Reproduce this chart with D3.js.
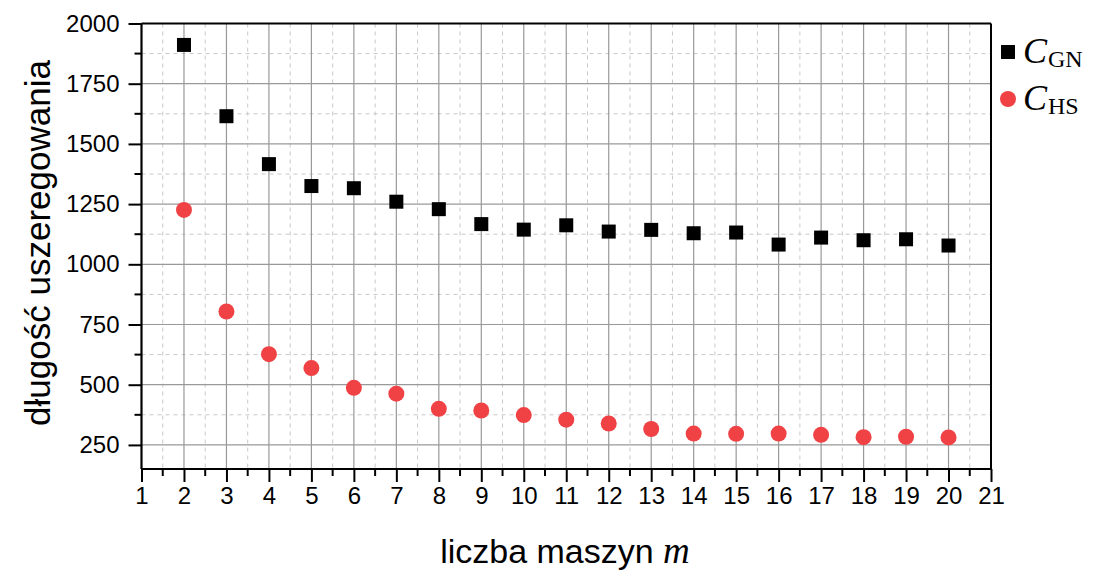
<!DOCTYPE html>
<html>
<head>
<meta charset="utf-8">
<script src="https://cdn.jsdelivr.net/npm/d3@7"></script>
<style>
  html, body { margin: 0; padding: 0; background: #fff; }
  svg { display: block; }
</style>
</head>
<body>
<svg id="chart" width="1095" height="574"></svg>
<script>
// Number of machines m
const machines = [2, 3, 4, 5, 6, 7, 8, 9, 10, 11, 12, 13, 14, 15, 16, 17, 18, 19, 20];
// Schedule length for C_GN
const cGN = [1911, 1615, 1416, 1325, 1316, 1260, 1229, 1167, 1144, 1162, 1136, 1143, 1129, 1132, 1082, 1111, 1100, 1104, 1078];
// Schedule length for C_HS
const cHS = [1226, 804, 627, 569, 487, 463, 400, 393, 374, 355, 339, 316, 297, 296, 297, 292, 282, 284, 281];

const xTicks = d3.range(1, 22);
const yTicks = [250, 500, 750, 1000, 1250, 1500, 1750, 2000];

const svg = d3.select("#chart");
const L = 141.5, R = 991, T = 23.5, B = 469;
const sans = "'Liberation Sans', Arial, sans-serif";
const serif = "'Liberation Serif', 'DejaVu Serif', serif";

const x = d3.scaleLinear().domain([1, 21]).range([L, R]);
const y = d3.scaleLinear().domain([150, 2000]).range([B, T]);

const g = svg.append("g");

// minor grid (dashed)
const xMinorVals = d3.range(1.5, 21, 1);
g.selectAll(".xminor").data(xMinorVals).join("line")
  .attr("x1", d => x(d)).attr("x2", d => x(d)).attr("y1", T).attr("y2", B)
  .attr("stroke", "#c8c8c8").attr("stroke-width", 1).attr("stroke-dasharray", "4,4");
const yMinorVals = d3.range(375, 2000, 250);
g.selectAll(".yminor").data(yMinorVals).join("line")
  .attr("x1", L).attr("x2", R).attr("y1", d => y(d)).attr("y2", d => y(d))
  .attr("stroke", "#c8c8c8").attr("stroke-width", 1).attr("stroke-dasharray", "4,4");

// major grid (solid)
g.selectAll(".xmajor").data(xTicks.slice(1, -1)).join("line")
  .attr("x1", d => x(d)).attr("x2", d => x(d)).attr("y1", T).attr("y2", B)
  .attr("stroke", "#999").attr("stroke-width", 1.2);
g.selectAll(".ymajor").data(yTicks.slice(0, -1)).join("line")
  .attr("x1", L).attr("x2", R).attr("y1", d => y(d)).attr("y2", d => y(d))
  .attr("stroke", "#999").attr("stroke-width", 1.2);

// frame: top and right
svg.append("line").attr("x1", L).attr("x2", R).attr("y1", T).attr("y2", T)
  .attr("stroke", "#000").attr("stroke-width", 2);
svg.append("line").attr("x1", R).attr("x2", R).attr("y1", T).attr("y2", B)
  .attr("stroke", "#000").attr("stroke-width", 2);

// axes
const xAxis = d3.axisBottom(x).tickValues(xTicks).tickSize(13).tickPadding(5).tickFormat(d3.format("d"));
const xAx = svg.append("g").attr("transform", `translate(0,${B})`).call(xAxis);
const yAxis = d3.axisLeft(y).tickValues(yTicks).tickSize(13).tickPadding(9).tickFormat(d3.format("d"));
const yAx = svg.append("g").attr("transform", `translate(${L},0)`).call(yAxis);

[xAx, yAx].forEach(a => {
  a.select(".domain").attr("stroke", "#000").attr("stroke-width", 2.2);
  a.selectAll(".tick line").attr("stroke", "#000").attr("stroke-width", 2);
  a.selectAll(".tick text").attr("fill", "#000")
    .style("font-family", sans).style("font-size", "24px");
});
xAx.select(".domain").attr("d", `M${L},0H${R}`);
yAx.select(".domain").attr("d", `M0,${B}V${T}`);

// minor ticks
xAx.selectAll(".mt").data(xMinorVals).join("line")
  .attr("x1", d => x(d)).attr("x2", d => x(d)).attr("y1", 0).attr("y2", 7)
  .attr("stroke", "#000").attr("stroke-width", 2);
yAx.selectAll(".mt").data(yMinorVals).join("line")
  .attr("x1", 0).attr("x2", -7).attr("y1", d => y(d)).attr("y2", d => y(d))
  .attr("stroke", "#000").attr("stroke-width", 2);

// data marks
const sq = 14;
svg.append("g").selectAll("rect").data(machines).join("rect")
  .attr("x", (d) => x(d) - sq / 2)
  .attr("y", (d, i) => y(cGN[i]) - sq / 2)
  .attr("width", sq).attr("height", sq).attr("fill", "#000");
svg.append("g").selectAll("circle").data(machines).join("circle")
  .attr("cx", d => x(d))
  .attr("cy", (d, i) => y(cHS[i]))
  .attr("r", 8).attr("fill", "#f04245");

// axis titles
svg.append("text")
  .attr("x", 565).attr("y", 563).attr("text-anchor", "middle")
  .style("font-family", sans).style("font-size", "34px")
  .html(`liczba maszyn <tspan style="font-family:${serif}; font-style:italic; font-size:37px">m</tspan>`);

svg.append("text")
  .attr("transform", "translate(50,243) rotate(-90)").attr("text-anchor", "middle")
  .style("font-family", sans).style("font-size", "35px")
  .text("długość uszeregowania");

// legend
const lg = svg.append("g");
lg.append("rect").attr("x", 1001).attr("y", 45).attr("width", 14).attr("height", 14).attr("fill", "#000");
lg.append("circle").attr("cx", 1008).attr("cy", 99).attr("r", 8).attr("fill", "#f04245");
const legendItems = [["C", "GN", 63], ["C", "HS", 110]];
legendItems.forEach(([main, sub, yy]) => {
  const t = lg.append("text").attr("x", 1023).attr("y", yy)
    .style("font-family", serif).style("font-size", "36px").attr("fill", "#000");
  t.append("tspan").style("font-style", "italic").text(main);
  t.append("tspan").attr("dy", 4).attr("dx", 1).style("font-size", "24px").text(sub);
});
</script>
</body>
</html>
